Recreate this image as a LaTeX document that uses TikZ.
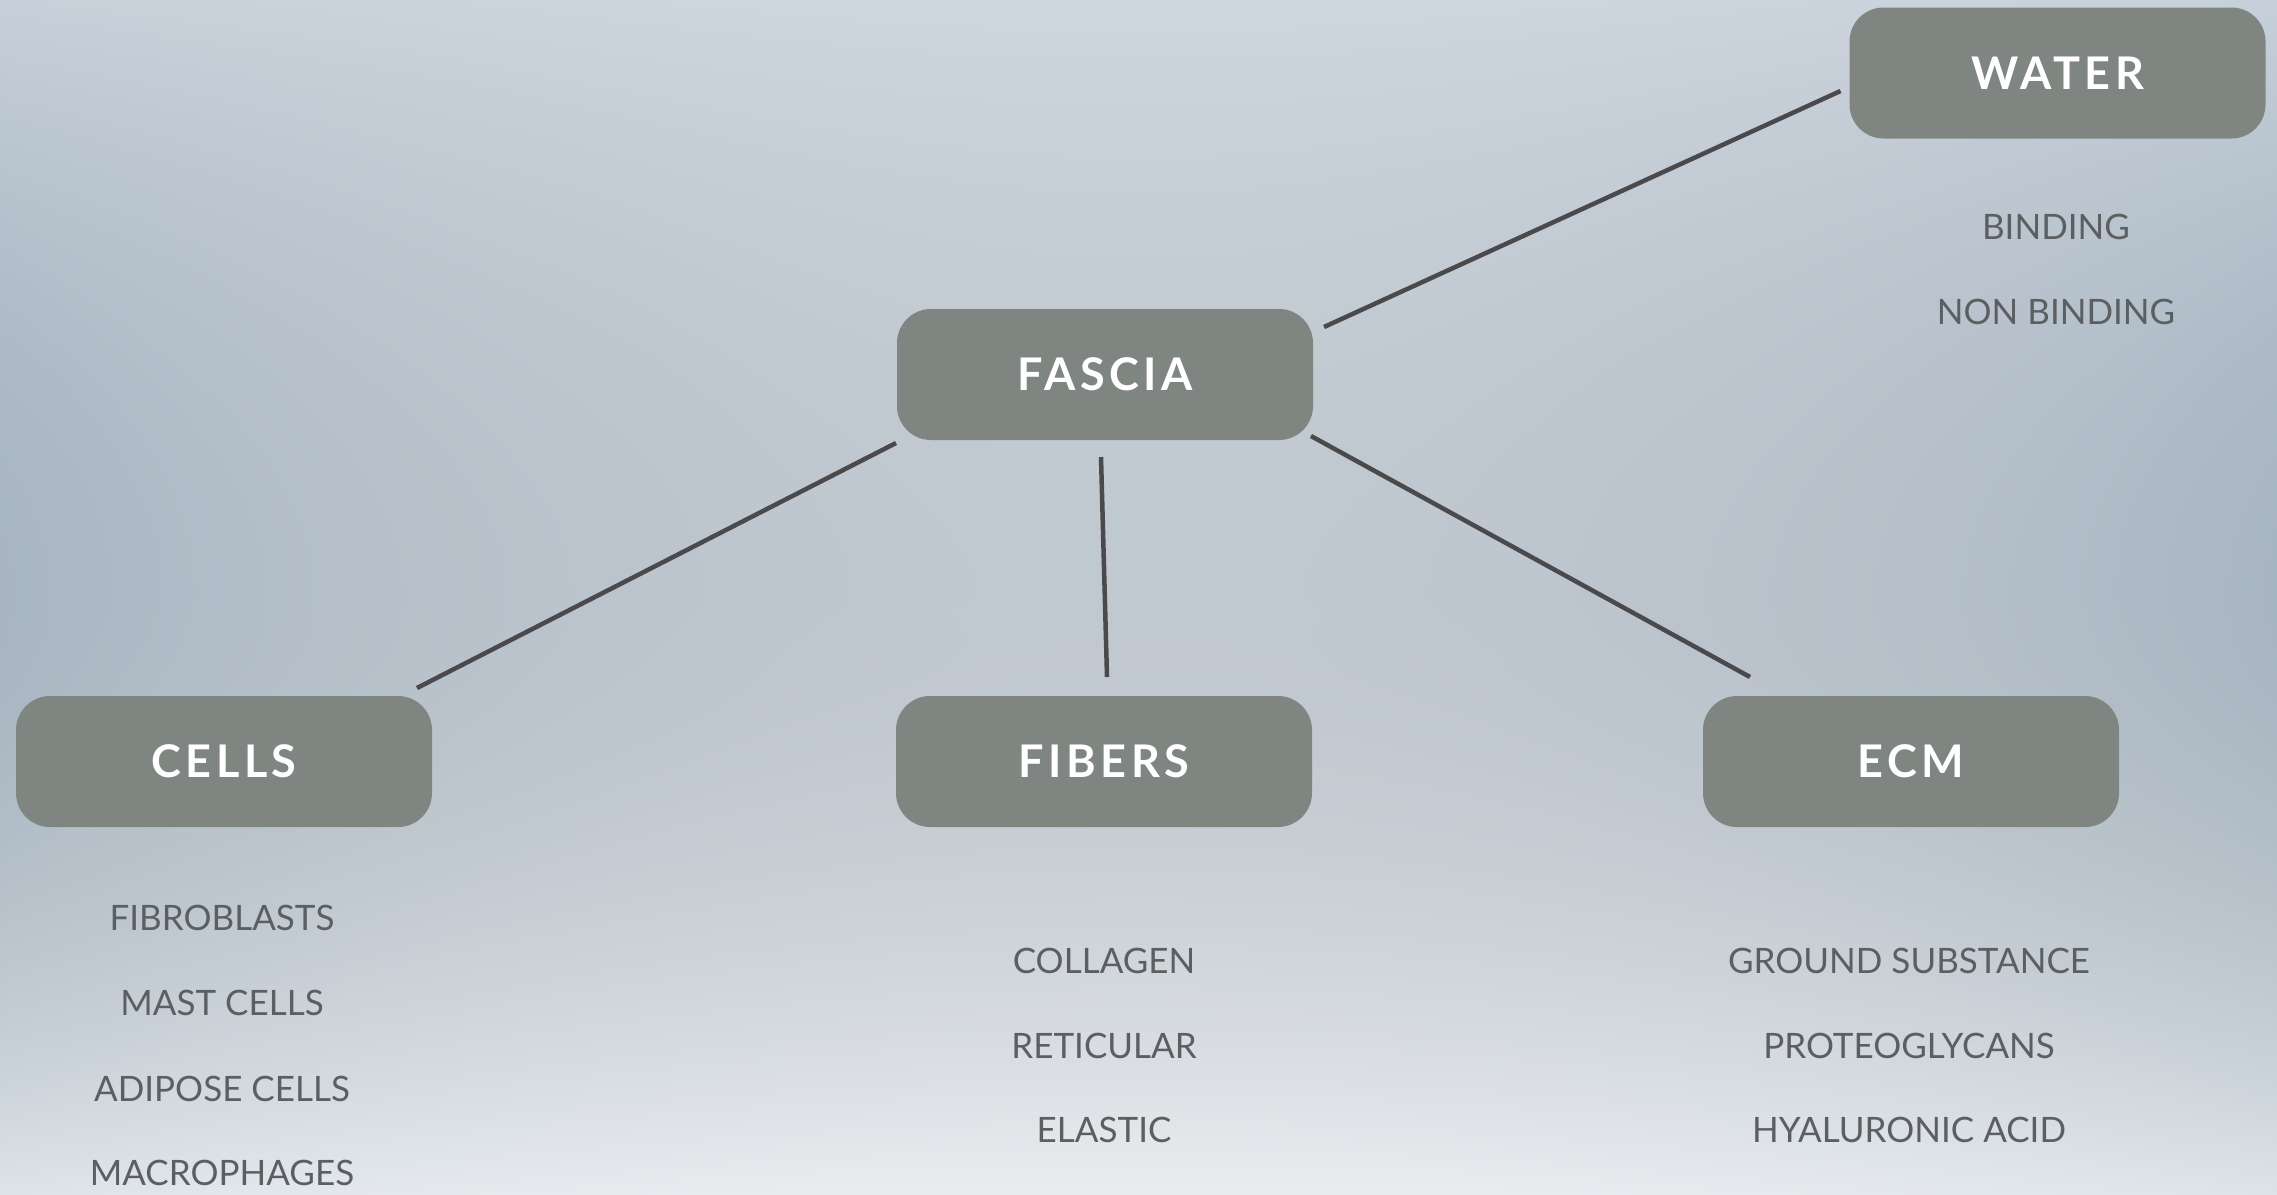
\documentclass[tikz,border=0pt]{standalone}
\usepackage{fontspec}
\setmainfont{Lato}
\usetikzlibrary{calc}

\definecolor{boxfill}{RGB}{127,134,130}
\definecolor{linkcol}{RGB}{74,74,76}
\definecolor{itemcol}{RGB}{92,95,98}

% backdrop: pale at the top, lightest at the bottom, bluish grey through
% the middle, and darker towards the left and right sides
\pgfdeclarefunctionalshading{backdrop}{\pgfpoint{-50bp}{-50bp}}{\pgfpoint{50bp}{50bp}}{}{
  50 div 0.5 add
  exch 50 div 0.5 add
  2 mul 1 sub dup mul
  exch
  dup 0.5 sub dup mul
  1 index 0.5 lt {148} {56} ifelse mul 200 add
  1 index 0.5 gt {8} {1 index 10 mul 3 add} ifelse
  2 index 0.5 sub dup mul
  3 index 0.5 lt {1.8} {2.8} ifelse mul 1 exch sub
  4 index mul
  2 index 2 index sub 1 index 24 mul sub 255 div
  3 index 2 index 18 mul sub 255 div
  4 index 4 index add 3 index 14 mul sub 255 div
  8 3 roll pop pop pop pop pop
}

\tikzset{
  topic/.style={rounded corners=34pt, fill=boxfill, text=white,
    minimum width=416pt, minimum height=131pt, outer sep=0pt, inner sep=0pt,
    font=\fontsize{45}{54}\selectfont\bfseries\addfontfeature{LetterSpace=10}},
  item/.style={text=itemcol, inner sep=0pt,
    font=\fontsize{35}{42}\selectfont},
  link/.style={draw=linkcol, line width=4.5pt}
}

\begin{document}
\begin{tikzpicture}[x=1pt,y=-1pt]
\useasboundingbox (0,0) rectangle (2277,1194);

\begin{scope}[y=1pt]
  \shade[shading=backdrop] (0,0) rectangle (2277,-1194);
\end{scope}

% topic boxes
\node[topic] (fascia) at (1105,374.5) {FASCIA};
\node[topic] (water)  at (2057.5,73)  {WATER};
\node[topic] (cells)  at (224,761.5)  {CELLS};
\node[topic] (fibers) at (1104,761.5) {FIBERS};
\node[topic] (ecm)    at (1911,761.5) {ECM};

% connectors
\draw[link] ($(fascia.north east)+(11,18)$) -- ($(water.west)+(-9,18)$);
\draw[link] ($(fascia.south west)+(-1,3)$) -- ($(cells.north east)+(-15,-8)$);
\draw[link] ($(fascia.south)+(-4,17)$) -- ($(fibers.north)+(3,-19)$);
\draw[link] ($(fascia.south east)+(-2,-4)$) -- ($(ecm.north west)+(47,-19)$);

% water
\node[item] (binding)    at (2056,227) {BINDING};
\node[item] (nonbinding) at (2056,312) {NON BINDING};

% cells
\node[item] (fibroblasts) at (222,918)  {FIBROBLASTS};
\node[item] (mast)        at (222,1003) {MAST CELLS};
\node[item] (adipose)     at (222,1089) {ADIPOSE CELLS};
\node[item] (macrophages) at (222,1173) {MACROPHAGES};

% fibers
\node[item] (collagen)  at (1104,961)  {COLLAGEN};
\node[item] (reticular) at (1104,1046) {RETICULAR};
\node[item] (elastic)   at (1104,1130) {ELASTIC};

% ecm
\node[item] (ground)    at (1909,961)  {GROUND SUBSTANCE};
\node[item] (proteo)    at (1909,1046) {PROTEOGLYCANS};
\node[item] (hyaluron)  at (1909,1130) {HYALURONIC ACID};
\end{tikzpicture}
\end{document}
